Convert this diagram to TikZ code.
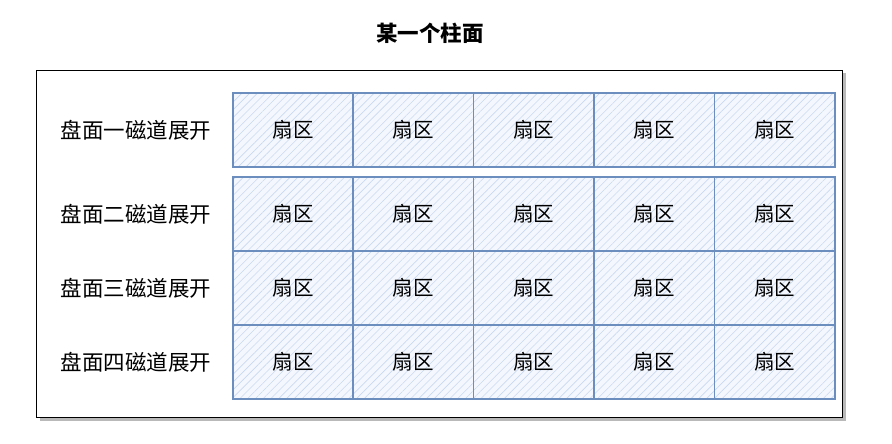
\documentclass[tikz,border=0pt]{standalone}
\usepackage{fontspec}
\setmainfont{Noto Sans CJK SC}
\usetikzlibrary{patterns.meta,shadows,positioning}

\definecolor{cellline}{HTML}{6C8EBF}
\definecolor{cellfill}{HTML}{F4F8FE}
\definecolor{hatch}{HTML}{C8D8F0}

\tikzset{
  sector/.style={draw=cellline, line width=1.5pt, minimum width=120.4pt,
    minimum height=74pt, inner sep=0pt,
    preaction={fill=cellfill},
    pattern={Lines[angle=45,distance=5.5pt,line width=0.6pt]}, pattern color=hatch,
    font=\fontsize{20.5}{24}\selectfont},
  tracklabel/.style={font=\fontsize{21.5}{24}\selectfont, inner sep=0pt},
}

\begin{document}
\begin{tikzpicture}[x=1pt,y=-1pt]
\useasboundingbox (0,0) rectangle (892,444);

\node[font=\bfseries\fontsize{21.5}{24}\selectfont] (title) at (430,33) {某一个柱面};
\node[draw=black, line width=1.4pt, fill=white, minimum width=806pt, minimum height=347pt,
  drop shadow={shadow xshift=3pt, shadow yshift=-3pt, fill=black!55}] (frame) at (439.5,244) {};

% track labels
\node[tracklabel] (t1) at (136,130) {盘面一磁道展开};
\node[tracklabel] (t2) at (136,214) {盘面二磁道展开};
\node[tracklabel] (t3) at (136,288) {盘面三磁道展开};
\node[tracklabel] (t4) at (136,362) {盘面四磁道展开};

% sectors
\foreach \r/\y in {1/130,2/214,3/288,4/362}
  \foreach \c in {1,...,5}
    \node[sector] (s\r\c) at ({232.8+120.4*(\c-0.5)},\y) {扇区};
\end{tikzpicture}
\end{document}
